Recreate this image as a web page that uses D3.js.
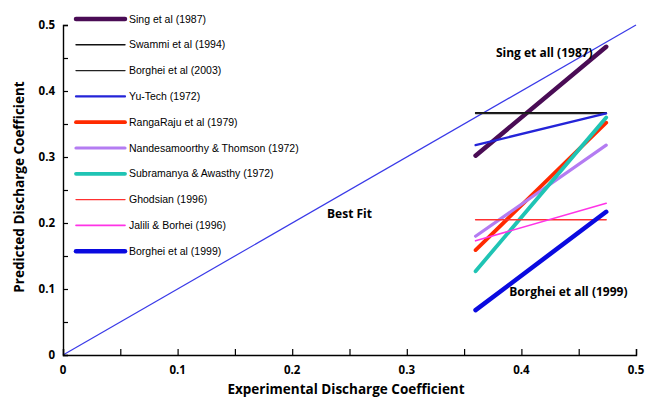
<!DOCTYPE html>
<html>
<head>
<meta charset="utf-8">
<script src="https://cdn.jsdelivr.net/npm/d3@7"></script>
<style>
  body { margin: 0; background: #fff; }
  svg { display: block; }
</style>
</head>
<body>
<svg id="chart"></svg>
<script>
// series names, colours, stroke widths (legend order)
const names = ["Sing et al (1987)", "Swammi et al (1994)", "Borghei et al (2003)", "Yu-Tech (1972)",
  "RangaRaju et al (1979)", "Nandesamoorthy & Thomson (1972)", "Subramanya & Awasthy (1972)",
  "Ghodsian (1996)", "Jalili & Borhei (1996)", "Borghei et al (1999)"];
const colors = ["#4a0c55", "#111111", "#222222", "#2424d8", "#ff2a00", "#b47cf2", "#1fc4b4",
  "#ff3030", "#ff33e6", "#0a0ae0"];
const widths = [4.5, 1.4, 1.4, 2.2, 3.8, 3.2, 3.8, 1.4, 1.6, 4.5];

// experimental x range for every series
const xStart = 0.36;
const xEnd = 0.474;
// predicted values at the start and end of the range
const yStart = [0.302, 0.367, 0.366, 0.318, 0.159, 0.180, 0.127, 0.205, 0.173, 0.068];
const yEnd = [0.467, 0.367, 0.366, 0.366, 0.352, 0.318, 0.360, 0.205, 0.230, 0.217];

const bestFit = [[0, 0], [0.5, 0.5]];
const xTicks = [0, 0.1, 0.2, 0.3, 0.4, 0.5];
const yTicks = [0, 0.1, 0.2, 0.3, 0.4, 0.5];

const width = 646, height = 400;
const margin = { top: 25, right: 10, bottom: 45, left: 63 };

const svg = d3.select("#chart").attr("width", width).attr("height", height);

const x = d3.scaleLinear().domain([0, 0.5]).range([margin.left, 636]);
const y = d3.scaleLinear().domain([0, 0.5]).range([355, margin.top]);

const boldFont = "'Open Sans', 'DejaVu Sans', sans-serif";

// best fit line
const line = d3.line().x(d => x(d[0])).y(d => y(d[1]));
svg.append("path")
  .attr("d", line(bestFit))
  .attr("fill", "none")
  .attr("stroke", "#3a3ae8")
  .attr("stroke-width", 1.2);

// series lines
const series = names.map((n, i) => ({ name: n, color: colors[i], w: widths[i],
  pts: [[xStart, yStart[i]], [xEnd, yEnd[i]]] }));

svg.append("g").selectAll("path")
  .data(series)
  .enter().append("path")
  .attr("d", d => line(d.pts))
  .attr("fill", "none")
  .attr("stroke", d => d.color)
  .attr("stroke-width", d => d.w)
  .attr("stroke-linecap", "round");

// axes
const xAxis = svg.append("g")
  .attr("transform", `translate(0, ${y(0)})`)
  .call(d3.axisBottom(x).tickValues(d3.range(0, 0.501, 0.05)).tickSize(-6).tickFormat(""));
const yAxis = svg.append("g")
  .attr("transform", `translate(${x(0)}, 0)`)
  .call(d3.axisLeft(y).tickValues(d3.range(0, 0.501, 0.05)).tickSize(-5).tickFormat(""));
[xAxis, yAxis].forEach(g => {
  g.select(".domain").attr("stroke", "#000").attr("stroke-width", 1.4);
  g.selectAll(".tick line").attr("stroke", "#000").attr("stroke-width", 1.2);
});

svg.append("g").selectAll("text")
  .data(xTicks)
  .enter().append("text")
  .attr("x", d => x(d))
  .attr("y", y(0) + 19)
  .attr("text-anchor", "middle")
  .style("font-family", boldFont)
  .style("font-weight", "bold")
  .style("font-size", "11.5px")
  .text(d => d);

svg.append("g").selectAll("text")
  .data(yTicks)
  .enter().append("text")
  .attr("x", x(0) - 8)
  .attr("y", d => y(d) + 4)
  .attr("text-anchor", "end")
  .style("font-family", boldFont)
  .style("font-weight", "bold")
  .style("font-size", "11.5px")
  .text(d => d);

// axis titles
svg.append("text")
  .attr("x", 346)
  .attr("y", 394)
  .attr("text-anchor", "middle")
  .style("font-family", boldFont)
  .style("font-weight", "bold")
  .style("font-size", "13.5px")
  .text("Experimental Discharge Coefficient");

svg.append("text")
  .attr("transform", "translate(24, 187) rotate(-90)")
  .attr("text-anchor", "middle")
  .style("font-family", boldFont)
  .style("font-weight", "bold")
  .style("font-size", "13.5px")
  .text("Predicted Discharge Coefficient");

// annotations
const notes = [
  { t: "Sing et all (1987)", x: 0.42, y: 0.451 },
  { t: "Best Fit", x: 0.25, y: 0.207 },
  { t: "Borghei et all (1999)", x: 0.441, y: 0.089 }
];
svg.append("g").selectAll("text")
  .data(notes)
  .enter().append("text")
  .attr("x", d => x(d.x))
  .attr("y", d => y(d.y))
  .attr("text-anchor", "middle")
  .style("font-family", boldFont)
  .style("font-weight", "bold")
  .style("font-size", "12px")
  .text(d => d.t);

// legend
const legend = svg.append("g").selectAll("g")
  .data(series)
  .enter().append("g")
  .attr("transform", (d, i) => `translate(76, ${19 + i * 25.8})`);
legend.append("line")
  .attr("x1", 0).attr("x2", 49)
  .attr("stroke", d => d.color)
  .attr("stroke-width", d => d.w)
  .attr("stroke-linecap", "round");
legend.append("text")
  .attr("x", 53)
  .attr("y", 3.5)
  .style("font-family", "'Liberation Sans Narrow', 'Liberation Sans', Arial, sans-serif")
  .style("font-size", "10.5px")
  .text(d => d.name);
</script>
</body>
</html>
